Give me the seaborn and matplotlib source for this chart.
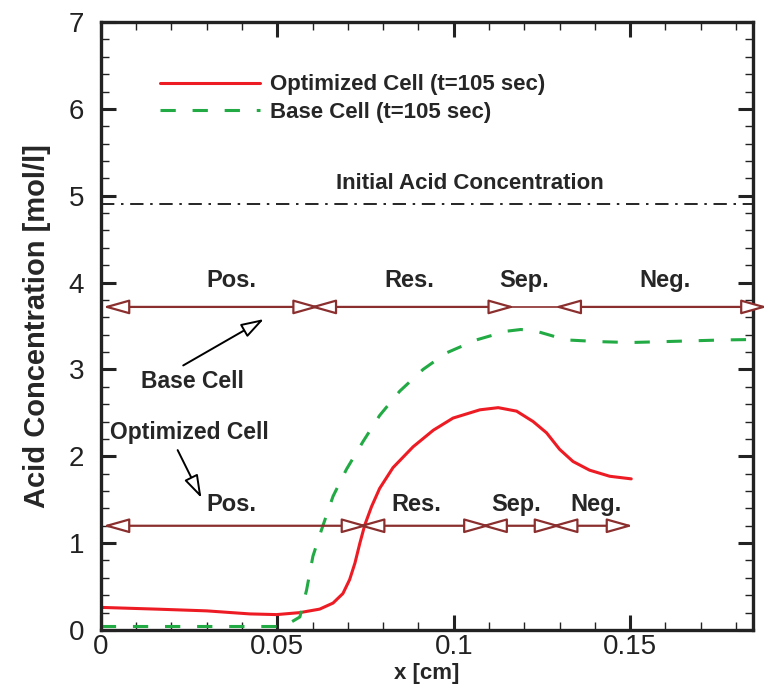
import numpy as np
import pandas as pd
import matplotlib
matplotlib.use("Agg")
import matplotlib.pyplot as plt
import seaborn as sns
from matplotlib.ticker import MultipleLocator

# Optimized cell acid concentration (t=105 sec)
opt_x = [0.0, 0.0158, 0.030, 0.0422, 0.0498, 0.0564, 0.0620, 0.0658, 0.0686,
         0.0705, 0.0720, 0.0734, 0.0748, 0.0767, 0.079, 0.0828, 0.0885, 0.0942,
         0.0998, 0.1074, 0.1126, 0.1178, 0.1225, 0.1263, 0.130, 0.1338, 0.1385,
         0.1442, 0.1503]
opt_y = [0.26, 0.24, 0.22, 0.185, 0.177, 0.20, 0.24, 0.31, 0.42,
         0.58, 0.77, 1.0, 1.21, 1.42, 1.63, 1.87, 2.11, 2.30,
         2.44, 2.535, 2.56, 2.52, 2.40, 2.27, 2.08, 1.94, 1.84,
         1.77, 1.74]

# Base cell acid concentration (t=105 sec)
base_x = [0.0, 0.02, 0.04, 0.0515, 0.0535, 0.0564, 0.0583, 0.0601, 0.0625,
          0.0658, 0.0696, 0.0743, 0.079, 0.0847, 0.0913, 0.0979, 0.1064,
          0.1149, 0.119, 0.1234, 0.1319, 0.1414, 0.1499, 0.1593, 0.1678,
          0.1768, 0.1857]
base_y = [0.04, 0.04, 0.04, 0.04, 0.08, 0.15, 0.46, 0.85, 1.15,
          1.54, 1.85, 2.17, 2.47, 2.75, 3.0, 3.19, 3.34,
          3.44, 3.46, 3.44, 3.34, 3.32, 3.31, 3.32, 3.33,
          3.34, 3.345]

initial_conc = 4.91

# region boundaries (x) and labels
region_names = ["Pos.", "Res.", "Sep.", "Neg."]
base_bounds = [0.002, 0.0606, 0.1159, 0.130, 0.1875]
base_arrow_y = 3.72
base_label_x = [0.037, 0.0875, 0.120, 0.160]
opt_bounds = [0.002, 0.0743, 0.109, 0.129, 0.1494]
opt_arrow_y = 1.2
opt_label_x = [0.037, 0.0894, 0.1178, 0.1404]

RED = "#ED1C24"
GREEN = "#22AA44"
MAROON = "#8B2E2E"
FONT = ["Liberation Sans", "DejaVu Sans"]

sns.set_style("ticks")
plt.rcParams["font.family"] = FONT

fig = plt.figure(figsize=(7.64, 6.9), dpi=100)
ax = fig.add_axes([0.132, 0.087, 0.8536, 0.881])
ax.set_xlim(0, 0.1848)
ax.set_ylim(0, 7)

opt_df = pd.DataFrame({"x": opt_x, "y": opt_y})
base_df = pd.DataFrame({"x": base_x, "y": base_y})
sns.lineplot(data=opt_df, x="x", y="y", ax=ax, color=RED, lw=2.2,
             label="Optimized Cell (t=105 sec)", sort=False)
sns.lineplot(data=base_df, x="x", y="y", ax=ax, color=GREEN, lw=2.2,
             label="Base Cell (t=105 sec)", sort=False)
ax.lines[-1].set_linestyle((0, (5, 5.5)))

ax.axhline(initial_conc, color="black", lw=1.2, ls=(0, (8, 4, 1.5, 4)))
ax.text(0.1045, 5.14, "Initial Acid Concentration", ha="center", va="center",
        fontsize=16, fontweight="bold")

# matplotlib pulls arrow tips back by the miter; push them out again (~5 px)
inv = ax.transData.inverted()
tip_pad = inv.transform((5, 0))[0] - inv.transform((0, 0))[0]


def region_arrows(bounds, y, label_xs, label_y, sep_plain):
    for i in range(len(bounds) - 1):
        x0, x1 = bounds[i], bounds[i + 1]
        if sep_plain and i == 2:
            ax.plot([x0, x1], [y, y], color=MAROON, lw=1.2, clip_on=False)
        else:
            ax.annotate("", xy=(x1 + tip_pad, y), xytext=(x0 - tip_pad, y),
                        annotation_clip=False,
                        arrowprops=dict(arrowstyle="<|-|>,head_length=16,head_width=4.5",
                                        mutation_scale=1, fc="white", ec=MAROON,
                                        lw=1.6, shrinkA=0, shrinkB=0))
    for name, lx in zip(region_names, label_xs):
        ax.text(lx, label_y, name, ha="center", va="center", fontsize=17,
                fontweight="bold")


region_arrows(base_bounds, base_arrow_y, base_label_x, 4.02, True)
region_arrows(opt_bounds, opt_arrow_y, opt_label_x, 1.45, False)

ax.annotate("Base Cell", xy=(0.0462, 3.58), xytext=(0.026, 2.86),
            ha="center", va="center", fontsize=16.5, fontweight="bold",
            arrowprops=dict(arrowstyle="-|>,head_length=14,head_width=4.5",
                            mutation_scale=1, fc="white", ec="black", lw=1.4,
                            relpos=(0.33, 1.0), shrinkA=2, shrinkB=0))
ax.annotate("Optimized Cell", xy=(0.0285, 1.52), xytext=(0.025, 2.27),
            ha="center", va="center", fontsize=16.5, fontweight="bold",
            arrowprops=dict(arrowstyle="-|>,head_length=14,head_width=4.5",
                            mutation_scale=1, fc="white", ec="black", lw=1.4,
                            relpos=(0.41, 0.0), shrinkA=2, shrinkB=0))

ax.xaxis.set_major_locator(MultipleLocator(0.05))
ax.xaxis.set_minor_locator(MultipleLocator(0.01))
ax.yaxis.set_major_locator(MultipleLocator(1))
ax.yaxis.set_minor_locator(MultipleLocator(0.2))
ax.set_xticks([0, 0.05, 0.1, 0.15])
ax.set_xticklabels(["0", "0.05", "0.1", "0.15"])
ax.tick_params(which="both", direction="in", top=True, right=True,
               labelsize=20, color="#222222", labelcolor="#222222")
ax.tick_params(which="major", length=11, width=2.2)
ax.tick_params(which="minor", length=6, width=1.0)
ax.tick_params(axis="x", which="major", pad=3)
ax.tick_params(axis="y", which="major", pad=12)
for sp in ax.spines.values():
    sp.set_linewidth(2.4)
    sp.set_color("#222222")

ax.set_xlabel("x [cm]", fontsize=16, fontweight="bold", labelpad=2)
ax.set_ylabel("Acid Concentration [mol/l]", fontsize=21, fontweight="bold",
              labelpad=13)

leg = ax.legend(loc="upper left", bbox_to_anchor=(0.09, 0.914), frameon=False,
                handlelength=4.5, borderpad=0, borderaxespad=0,
                labelspacing=0.3, handletextpad=0.45,
                prop={"weight": "bold", "size": 16})

fig.savefig("out.png", dpi=100)
